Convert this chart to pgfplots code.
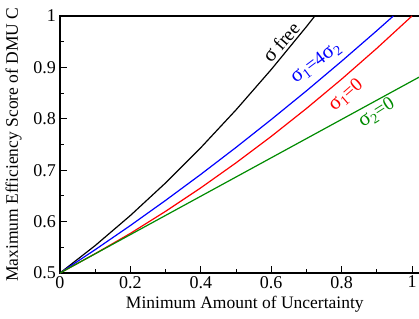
\documentclass[border=0pt]{standalone}
\usepackage{pgfplots}
\pgfplotsset{compat=1.18}
\usepackage{fontspec}
\setmainfont{Liberation Serif}
\definecolor{grn}{RGB}{0,139,0}
\definecolor{blu}{RGB}{0,0,255}
\definecolor{rd}{RGB}{255,0,0}
\newcommand{\sig}{{\fontsize{21}{21}\selectfont σ}}
\newcommand{\sub}[1]{\raisebox{-0.4ex}{\fontsize{14}{14}\selectfont #1}}
\begin{document}
\fontsize{17.5}{21}\selectfont
\begin{tikzpicture}
\begin{axis}[
 x=352pt, y=514pt,
 xmin=0, xmax=1.05, ymin=0.5, ymax=1,
 axis line style={line width=1.1pt},
 tick pos=left, tick align=inside,
 xtick={0,0.2,0.4,0.6,0.8,1}, ytick={0.5,0.6,0.7,0.8,0.9,1},
 minor x tick num=1, minor y tick num=1,
 major tick length=7pt, minor tick length=4pt,
 every tick/.style={line width=0.9pt, black},
 /pgf/number format/assume math mode=true,
 tick label style={font=\fontsize{18}{21}\selectfont},
 xticklabel style={yshift=3pt},
 yticklabel style={xshift=2pt},
 xlabel={Minimum Amount of Uncertainty},
 ylabel={Maximum Efficiency Score of DMU C},
 label style={font=\fontsize{17.5}{21}\selectfont},
 xlabel style={yshift=4pt},
 every axis plot/.append style={line width=1.2pt},
]
\coordinate (O) at (axis cs:0,0.5);
\addplot[black] coordinates {(0,0.5) (0.1,0.5534) (0.2,0.6119) (0.3,0.6753) (0.4,0.7438) (0.5,0.8173) (0.6,0.8958) (0.7,0.9792) (0.724,1.0)};
\addplot[blu] coordinates {(0,0.5) (0.1,0.5454) (0.2,0.5924) (0.3,0.6413) (0.4,0.6919) (0.5,0.7443) (0.6,0.7985) (0.7,0.8543) (0.8,0.9120) (0.9,0.9714) (0.947,1.0)};
\addplot[rd] coordinates {(0,0.5) (0.1,0.5376) (0.2,0.5771) (0.3,0.6200) (0.4,0.6657) (0.5,0.7143) (0.6,0.7657) (0.7,0.8200) (0.8,0.8771) (0.9,0.9371) (1.0,1.0)};
\addplot[grn] coordinates {(0,0.5) (1.05,0.8922)};
\node[rotate=49, black, font=\fontsize{19}{19}\selectfont, inner sep=0pt] at (axis cs:0.628,0.949) {\sig\ free};
\node[rotate=37, blu, font=\fontsize{19}{19}\selectfont, inner sep=0pt] at (axis cs:0.727,0.909) {\sig\sub{1}=4\sig\sub{2}};
\node[rotate=41, rd, font=\fontsize{19}{19}\selectfont, inner sep=0pt] at (axis cs:0.813,0.846) {\sig\sub{1}=0};
\node[rotate=32, grn, font=\fontsize{19}{19}\selectfont, inner sep=0pt] at (axis cs:0.900,0.811) {\sig\sub{2}=0};
\end{axis}
\pgfresetboundingbox
\path[use as bounding box] ([shift={(-60pt,-45pt)}]O) rectangle ([shift={(359pt,273pt)}]O);
\end{tikzpicture}
\end{document}
